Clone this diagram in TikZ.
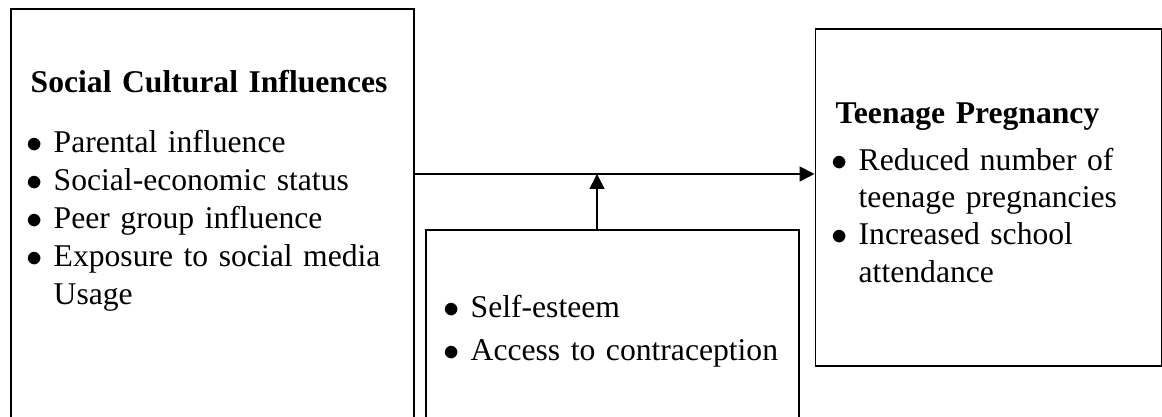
\documentclass[tikz,border=0pt]{standalone}
\usepackage{fontspec}
\setmainfont{Liberation Serif}
\usetikzlibrary{arrows.meta,positioning,calc}
\newcommand{\bul}{\makebox[0.23cm][l]{\hspace*{-0.04cm}$\bullet$}}

\begin{document}
\begin{tikzpicture}[
  box/.style={draw, line width=0.5pt, inner sep=0pt, anchor=north west},
  txt/.style={inner sep=0pt, anchor=north west, align=left,
              font=\fontsize{9}{10.8}\selectfont},
  arr/.style={-{Triangle[length=0.15cm,width=0.15cm]}, line width=0.45pt}
]
\useasboundingbox (0,0) rectangle (11.62,4.17);
\clip (0,0) rectangle (11.62,4.17);

\node[box, minimum width=4.03cm, minimum height=4.6cm]  (social)   at (0.10,4.09) {};
\node[box, minimum width=3.73cm, minimum height=2.4cm]  (moderate) at (4.25,1.88) {};
\node[box, minimum width=3.46cm, minimum height=3.37cm] (outcome)  at (8.145,3.89) {};

\node[txt, text width=3.8cm] (socialtxt) at (0.30,3.47)
  {\textbf{Social Cultural Influences}\\[6.2pt]
   \bul Parental influence\\
   \bul Social-economic status\\
   \bul Peer group influence\\
   \bul Exposure to social media\\
   \hspace*{0.23cm}Usage};
\node[txt, text width=3.4cm] (moderatetxt) at (4.47,1.22)
  {\bul Self-esteem\\[1.4pt]
   \bul Access to contraception};
\node[txt, text width=3.2cm, font=\fontsize{9}{10.6}\selectfont] (outcometxt) at (8.35,3.145)
  {\textbf{Teenage Pregnancy}\\[2.6pt]
   \bul Reduced number of\\
   \hspace*{0.23cm}teenage pregnancies\\
   \bul Increased school\\
   \hspace*{0.23cm}attendance};

\coordinate (meet) at (5.97,2.43);
\draw[arr] (social.east |- meet) -- (outcome.west |- meet);
\draw[arr] (moderate.north -| meet) -- (meet);

\end{tikzpicture}
\end{document}
